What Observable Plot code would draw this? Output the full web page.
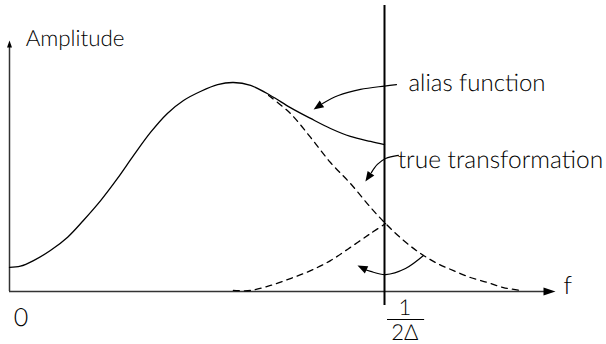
<!DOCTYPE html>
<html><head><meta charset="utf-8">
<script src="https://cdn.jsdelivr.net/npm/d3@7"></script>
<script src="https://cdn.jsdelivr.net/npm/@observablehq/plot@0.6"></script>
<style>
body{margin:0;background:#fff}
svg{display:block}
svg text{text-rendering:geometricPrecision;opacity:0.999}
</style>
</head><body><div id="chart"></div>
<script>
// Frequency f in units of the Nyquist frequency 1/(2Δ); amplitude relative to the peak.
// Alias function (solid), 0 .. 1/(2Δ)
const aliasF = [0, 0.029, 0.064, 0.109, 0.155, 0.197, 0.243, 0.288, 0.331, 0.376, 0.421, 0.464, 0.509, 0.555, 0.597, 0.643, 0.696, 0.749, 0.803, 0.856, 0.909, 0.963, 1.0];
const aliasA = [0.115, 0.121, 0.148, 0.196, 0.260, 0.340, 0.435, 0.541, 0.651, 0.761, 0.852, 0.914, 0.957, 0.990, 1.000, 0.986, 0.938, 0.880, 0.828, 0.780, 0.742, 0.718, 0.703];
// True transformation (dashed), where it separates from the alias function
const trueF = [0.691, 0.749, 0.803, 0.856, 0.909, 0.963, 1.003, 1.051, 1.096, 1.141, 1.184, 1.229, 1.275, 1.317, 1.363];
const trueA = [0.938, 0.852, 0.737, 0.617, 0.517, 0.402, 0.325, 0.244, 0.182, 0.134, 0.100, 0.067, 0.043, 0.019, 0.005];
// Folded-back part (dashed)
const foldF = [0.597, 0.643, 0.696, 0.749, 0.803, 0.856, 0.909, 0.963, 1.003];
const foldA = [0.005, 0.005, 0.029, 0.062, 0.100, 0.148, 0.211, 0.278, 0.325];

// Axis extents
const xAxisEnd = 1.456, yAxisEnd = 1.201;
const nyquist = 1, nyqLow = -0.067, nyqHigh = 1.368;

// Annotation leaders (curved arrows)
const leader1F = [1.032, 1.0, 0.936, 0.877, 0.835], leader1A = [0.990, 0.983, 0.967, 0.938, 0.900];
const leader2F = [1.037, 1.003, 0.981, 0.965], leader2A = [0.651, 0.636, 0.608, 0.569];
const leader3F = [1.104, 1.056, 1.003, 0.963, 0.941], leader3A = [0.172, 0.110, 0.081, 0.096, 0.110];
const headF = [0.811, 0.949, 0.928], headA = [0.871, 0.526, 0.124], headAngle = [236, 214, 295];

// Labels
const labelText = ["Amplitude", "alias function", "true transformation", "f", "0"];
const labelF = [0.043, 1.064, 1.035, 1.477, 0.011];
const labelA = [1.177, 0.957, 0.593, -0.014, -0.167];
const labelSize = [22.4, 24, 24.5, 25, 25];
const fracText = "1\n2Δ";
const fracF = 1.054, fracDenA = -0.232, fracBarA = -0.134, fracBarF1 = 1.008, fracBarF2 = 1.107;

const zip = (xs, ys) => xs.map((x, i) => ({x, y: ys[i]}));
const alias = zip(aliasF, aliasA), trueT = zip(trueF, trueA), fold = zip(foldF, foldA);
const leaders = [zip(leader1F, leader1A), zip(leader2F, leader2A), zip(leader3F, leader3A)];
const heads = headF.map((x, i) => ({x, y: headA[i], r: headAngle[i]}));
const labels = labelText.map((t, i) => ({t, x: labelF[i], y: labelA[i], s: labelSize[i]}));

const font = "Lato, 'DejaVu Sans', sans-serif";
const ink = "black";

const marks = [
  Plot.ruleY([0], {x1: 0, x2: xAxisEnd - 0.02, stroke: "#333", strokeWidth: 1.5}),
  Plot.ruleX([0], {y1: 0, y2: yAxisEnd - 0.02, stroke: "#333", strokeWidth: 1.5}),
  Plot.vector([{x: xAxisEnd, y: 0}], {x: "x", y: "y", length: 12, rotate: 90, anchor: "end", shape: "spike", r: 4, fill: ink, stroke: "none"}),
  Plot.vector([{x: 0, y: yAxisEnd}], {x: "x", y: "y", length: 7, rotate: 0, anchor: "end", shape: "spike", r: 2.5, fill: ink, stroke: "none"}),
  Plot.ruleX([nyquist], {y1: nyqLow, y2: nyqHigh, stroke: ink, strokeWidth: 2}),
  Plot.line(alias, {x: "x", y: "y", stroke: ink, strokeWidth: 1.3, curve: "catmull-rom"}),
  Plot.line(trueT, {x: "x", y: "y", stroke: ink, strokeWidth: 1.3, strokeDasharray: "6,5", curve: "catmull-rom"}),
  Plot.line(fold, {x: "x", y: "y", stroke: ink, strokeWidth: 1.3, strokeDasharray: "6,5", curve: "catmull-rom"}),
  ...leaders.map(d => Plot.line(d, {x: "x", y: "y", stroke: ink, strokeWidth: 1.2, curve: "catmull-rom"})),
  Plot.vector(heads, {x: "x", y: "y", rotate: "r", length: 10, anchor: "end", shape: "spike", r: 4, fill: ink, stroke: "none"}),
  ...labels.map(d => Plot.text([d], {x: "x", y: "y", text: "t", textAnchor: "start", lineAnchor: "bottom", fontSize: d.s, fill: ink, fontWeight: 300, fontFamily: font})),
  Plot.text([{t: fracText, x: fracF, y: fracDenA}], {x: "x", y: "y", text: "t", textAnchor: "middle", lineAnchor: "bottom", lineHeight: 1.14, fontSize: 22, fill: ink, fontWeight: 300, fontFamily: font}),
  Plot.ruleY([fracBarA], {x1: fracBarF1, x2: fracBarF2, stroke: ink, strokeWidth: 1.2})
];

const chart = Plot.plot({
  width: 606, height: 344, margin: 0,
  x: {domain: [0, 1], range: [9, 384], axis: null},
  y: {domain: [0, 1], range: [291, 82], axis: null},
  style: {background: "#fff", overflow: "visible"},
  marks
});
document.getElementById("chart").appendChild(chart);
</script>
</body></html>
